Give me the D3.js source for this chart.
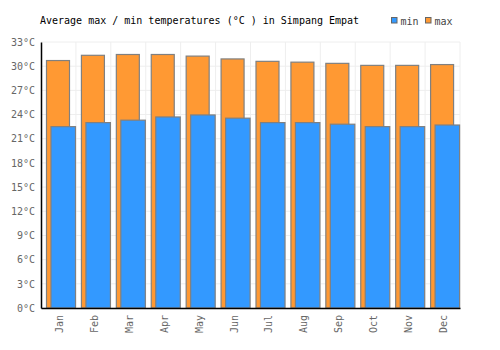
<!DOCTYPE html>
<html>
<head>
<meta charset="utf-8">
<script src="https://cdn.jsdelivr.net/npm/d3@7"></script>
<style>
  body { margin: 0; background: #fff; }
  text { font-family: "DejaVu Sans Mono", monospace; }
</style>
</head>
<body>
<div id="chart"></div>
<script>
// Data
const months = ["Jan", "Feb", "Mar", "Apr", "May", "Jun", "Jul", "Aug", "Sep", "Oct", "Nov", "Dec"];
const maxTemps = [30.7, 31.35, 31.45, 31.45, 31.25, 30.9, 30.6, 30.5, 30.35, 30.1, 30.1, 30.2];
const minTemps = [22.5, 23.0, 23.3, 23.7, 23.95, 23.55, 23.0, 23.0, 22.8, 22.5, 22.5, 22.7];
const yTicks = [0, 3, 6, 9, 12, 15, 18, 21, 24, 27, 30, 33];

const margin = { top: 42, right: 40, bottom: 42, left: 41 },
    width = 500 - margin.left - margin.right,
    height = 350 - margin.top - margin.bottom;

const svg = d3.select("#chart")
    .append("svg")
    .attr("width", 500)
    .attr("height", 350);

const g = svg.append("g")
    .attr("transform", `translate(${margin.left},${margin.top})`);

const x = d3.scaleBand()
    .domain(months)
    .range([0, width]);

const y = d3.scaleLinear()
    .domain([0, 33])
    .range([height, 0]);

// Grid lines
g.append("g")
    .selectAll("line.h")
    .data(yTicks)
    .enter()
    .append("line")
    .attr("x1", 0)
    .attr("x2", width)
    .attr("y1", d => y(d))
    .attr("y2", d => y(d))
    .attr("stroke", "#eeeeee")
    .attr("stroke-width", 1);

g.append("g")
    .selectAll("line.v")
    .data(months)
    .enter()
    .append("line")
    .attr("x1", d => x(d) + x.bandwidth())
    .attr("x2", d => x(d) + x.bandwidth())
    .attr("y1", 0)
    .attr("y2", height)
    .attr("stroke", "#eeeeee")
    .attr("stroke-width", 1);

// Max bars
g.append("g")
    .selectAll("rect")
    .data(maxTemps)
    .enter()
    .append("rect")
    .attr("x", (d, i) => x(months[i]) + 5.5)
    .attr("y", d => y(d))
    .attr("width", 23)
    .attr("height", d => height - y(d))
    .attr("fill", "#ff9933")
    .attr("stroke", "#808080")
    .attr("stroke-width", 1.2);

// Min bars
g.append("g")
    .selectAll("rect")
    .data(minTemps)
    .enter()
    .append("rect")
    .attr("x", (d, i) => x(months[i]) + 10)
    .attr("y", d => y(d))
    .attr("width", 24.5)
    .attr("height", d => height - y(d))
    .attr("fill", "#3399ff")
    .attr("stroke", "#808080")
    .attr("stroke-width", 1.2);

// Y axis
const yAxis = g.append("g")
    .call(d3.axisLeft(y).tickValues(yTicks).tickSize(0).tickPadding(6).tickFormat(d => d + "°C"));
yAxis.select(".domain").attr("stroke", "#000").attr("stroke-width", 1.5);
yAxis.selectAll("text")
    .style("font-family", "DejaVu Sans Mono, monospace")
    .style("font-size", "10px")
    .attr("fill", "#666");

// X axis
const xAxis = g.append("g")
    .attr("transform", `translate(0,${height})`)
    .call(d3.axisBottom(x).tickSize(0).tickPadding(0));
xAxis.select(".domain").attr("stroke", "#000").attr("stroke-width", 1.5);
xAxis.selectAll("text")
    .style("font-family", "DejaVu Sans Mono, monospace")
    .style("font-size", "10px")
    .attr("fill", "#666")
    .attr("transform", "rotate(-90)")
    .attr("text-anchor", "end")
    .attr("dy", "0.35em")
    .attr("x", -7)
    .attr("y", 1);

// Title
svg.append("text")
    .attr("x", 40)
    .attr("y", 24)
    .style("font-size", "10px")
    .attr("fill", "#000")
    .text("Average max / min temperatures (°C ) in Simpang Empat");

// Legend
const legend = [
    { label: "min", color: "#3399ff", x: 391 },
    { label: "max", color: "#ff9933", x: 425 }
];
const lg = svg.append("g")
    .selectAll("g")
    .data(legend)
    .enter()
    .append("g")
    .attr("transform", d => `translate(${d.x},17)`);
lg.append("rect")
    .attr("x", 0.5)
    .attr("y", 0.5)
    .attr("width", 5.5)
    .attr("height", 5.5)
    .attr("fill", d => d.color)
    .attr("stroke", "#666")
    .attr("stroke-width", 1);
lg.append("text")
    .attr("x", 9.5)
    .attr("y", 7.5)
    .style("font-size", "10px")
    .attr("fill", "#444")
    .text(d => d.label);
</script>
</body>
</html>
